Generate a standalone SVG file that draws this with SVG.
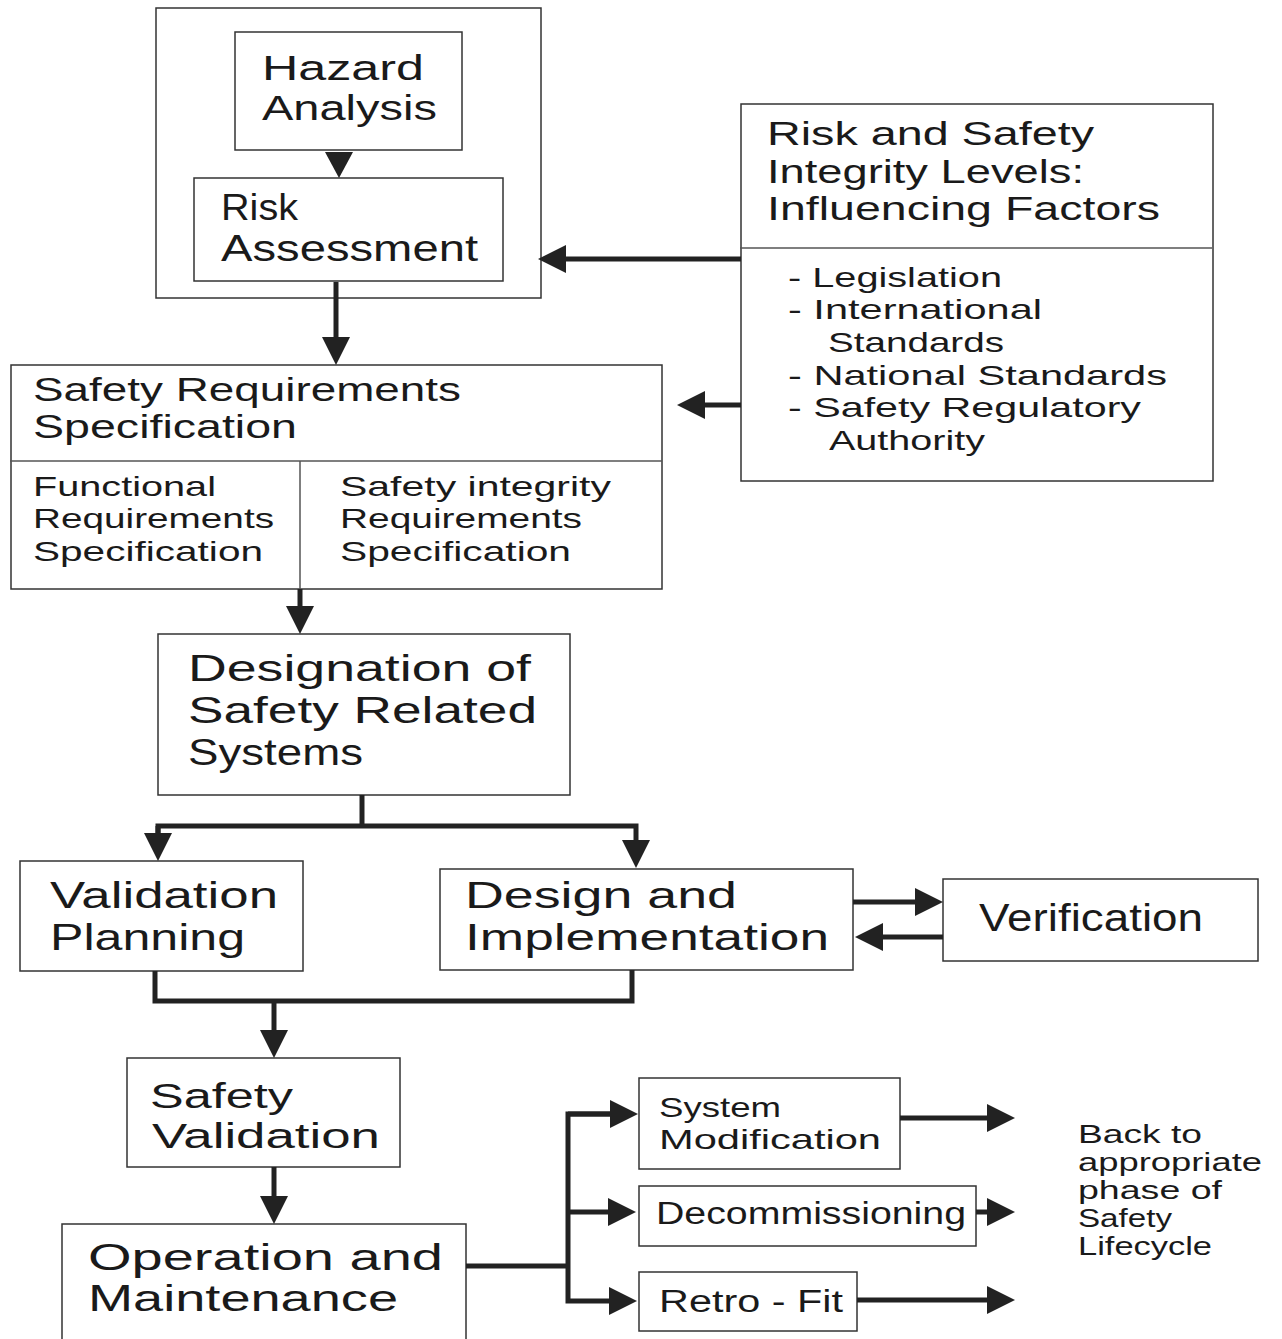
<svg xmlns="http://www.w3.org/2000/svg" width="1282" height="1339" viewBox="0 0 1282 1339">
<defs>
<style>
.box{fill:#fff;stroke:#333;stroke-width:1.5}
.div{stroke:#555;stroke-width:1.5;fill:none}
.c{stroke:#222;stroke-width:5;fill:none}
text{font-family:"Liberation Sans","DejaVu Sans",sans-serif;fill:#1a1a1a}
.a{font-size:35.5px}.b{font-size:37px}.d{font-size:33px}.e{font-size:28.5px}.f{font-size:25px}.g{font-size:36px}
</style>
<marker id="ah" markerUnits="userSpaceOnUse" viewBox="0 0 28 28" refX="18" refY="14" markerWidth="28" markerHeight="28" orient="auto">
<polygon points="0,0 28,14 0,28" fill="#222"/>
</marker>
</defs>

<g id="hazard-risk-group">
<rect class="box" x="156" y="8" width="385" height="290"/>
</g>
<g id="hazard-analysis">
<rect class="box" x="235" y="32" width="227" height="118"/>
<text class="a"><tspan x="262" y="80" textLength="162" lengthAdjust="spacingAndGlyphs">Hazard</tspan><tspan x="262" y="120" textLength="175" lengthAdjust="spacingAndGlyphs">Analysis</tspan></text>
</g>
<g id="risk-assessment">
<rect class="box" x="194" y="178" width="309" height="103"/>
<text class="g"><tspan x="221" y="220" textLength="77" lengthAdjust="spacingAndGlyphs">Risk</tspan><tspan x="221" y="261" textLength="257" lengthAdjust="spacingAndGlyphs">Assessment</tspan></text>
</g>
<g id="influencing-factors">
<rect class="box" x="741" y="104" width="472" height="377"/>
<line class="div" x1="740" y1="248" x2="1212" y2="248"/>
<text class="d"><tspan x="767" y="145" textLength="327" lengthAdjust="spacingAndGlyphs">Risk  and  Safety</tspan><tspan x="767" y="183" textLength="317" lengthAdjust="spacingAndGlyphs">Integrity  Levels:</tspan><tspan x="767" y="220" textLength="393" lengthAdjust="spacingAndGlyphs">Influencing  Factors</tspan></text>
<text class="e"><tspan x="788" y="287" textLength="214" lengthAdjust="spacingAndGlyphs">-  Legislation</tspan><tspan x="788" y="319" textLength="254" lengthAdjust="spacingAndGlyphs">-  International</tspan><tspan x="828" y="352" textLength="176" lengthAdjust="spacingAndGlyphs">Standards</tspan><tspan x="788" y="385" textLength="379" lengthAdjust="spacingAndGlyphs">-  National  Standards</tspan><tspan x="788" y="417" textLength="353" lengthAdjust="spacingAndGlyphs">-  Safety  Regulatory</tspan><tspan x="829" y="450" textLength="156" lengthAdjust="spacingAndGlyphs">Authority</tspan></text>
</g>
<g id="safety-requirements">
<rect class="box" x="11" y="365" width="651" height="224"/>
<line class="div" x1="10" y1="461" x2="662" y2="461"/>
<line class="div" x1="300" y1="461" x2="300" y2="589"/>
<text class="d"><tspan x="33" y="401" textLength="428" lengthAdjust="spacingAndGlyphs">Safety  Requirements</tspan><tspan x="33" y="438" textLength="264" lengthAdjust="spacingAndGlyphs">Specification</tspan></text>
<text class="e"><tspan x="33" y="496" textLength="183" lengthAdjust="spacingAndGlyphs">Functional</tspan><tspan x="33" y="528" textLength="241" lengthAdjust="spacingAndGlyphs">Requirements</tspan><tspan x="33" y="561" textLength="230" lengthAdjust="spacingAndGlyphs">Specification</tspan></text>
<text class="e"><tspan x="340" y="496" textLength="271" lengthAdjust="spacingAndGlyphs">Safety  integrity</tspan><tspan x="340" y="528" textLength="242" lengthAdjust="spacingAndGlyphs">Requirements</tspan><tspan x="340" y="561" textLength="231" lengthAdjust="spacingAndGlyphs">Specification</tspan></text>
</g>
<g id="designation">
<rect class="box" x="158" y="634" width="412" height="161"/>
<text class="b"><tspan x="188" y="681" textLength="343" lengthAdjust="spacingAndGlyphs">Designation  of</tspan><tspan x="188" y="723" textLength="349" lengthAdjust="spacingAndGlyphs">Safety  Related</tspan><tspan x="188" y="765" textLength="175" lengthAdjust="spacingAndGlyphs">Systems</tspan></text>
</g>
<g id="validation-planning">
<rect class="box" x="20" y="861" width="283" height="110"/>
<text class="b"><tspan x="50" y="908" textLength="228" lengthAdjust="spacingAndGlyphs">Validation</tspan><tspan x="50" y="950" textLength="195" lengthAdjust="spacingAndGlyphs">Planning</tspan></text>
</g>
<g id="design-implementation">
<rect class="box" x="440" y="869" width="413" height="101"/>
<text class="b"><tspan x="465" y="908" textLength="272" lengthAdjust="spacingAndGlyphs">Design  and</tspan><tspan x="465" y="950" textLength="364" lengthAdjust="spacingAndGlyphs">Implementation</tspan></text>
</g>
<g id="verification">
<rect class="box" x="943" y="879" width="315" height="82"/>
<text x="979" y="931" style="font-size:38px" textLength="224" lengthAdjust="spacingAndGlyphs">Verification</text>
</g>
<g id="safety-validation">
<rect class="box" x="127" y="1058" width="273" height="109"/>
<text class="a"><tspan x="150" y="1108" textLength="143" lengthAdjust="spacingAndGlyphs">Safety</tspan><tspan x="152" y="1148" textLength="228" lengthAdjust="spacingAndGlyphs">Validation</tspan></text>
</g>
<g id="operation-maintenance">
<rect class="box" x="62" y="1224" width="404" height="130"/>
<text class="g"><tspan x="88" y="1270" textLength="355" lengthAdjust="spacingAndGlyphs">Operation  and</tspan><tspan x="88" y="1311" textLength="310" lengthAdjust="spacingAndGlyphs">Maintenance</tspan></text>
</g>
<g id="system-modification">
<rect class="box" x="639" y="1078" width="261" height="91"/>
<text class="e"><tspan x="659" y="1117" textLength="122" lengthAdjust="spacingAndGlyphs">System</tspan><tspan x="659" y="1149" textLength="222" lengthAdjust="spacingAndGlyphs">Modification</tspan></text>
</g>
<g id="decommissioning">
<rect class="box" x="639" y="1186" width="337" height="60"/>
<text x="656" y="1224" style="font-size:31px" textLength="310" lengthAdjust="spacingAndGlyphs">Decommissioning</text>
</g>
<g id="retro-fit">
<rect class="box" x="639" y="1272" width="218" height="59"/>
<text x="659" y="1312" style="font-size:31px" textLength="184" lengthAdjust="spacingAndGlyphs">Retro  -  Fit</text>
</g>
<g id="back-to-lifecycle">
<text class="f"><tspan x="1078" y="1143" textLength="124" lengthAdjust="spacingAndGlyphs">Back  to</tspan><tspan x="1078" y="1171" textLength="184" lengthAdjust="spacingAndGlyphs">appropriate</tspan><tspan x="1078" y="1199" textLength="144" lengthAdjust="spacingAndGlyphs">phase  of</tspan><tspan x="1078" y="1227" textLength="94" lengthAdjust="spacingAndGlyphs">Safety</tspan><tspan x="1078" y="1255" textLength="134" lengthAdjust="spacingAndGlyphs">Lifecycle</tspan></text>
</g>

<g id="connectors">
<polygon points="325,152 353,152 339,178" fill="#222"/>
<line class="c" x1="336" y1="282" x2="336" y2="355" marker-end="url(#ah)"/>
<line class="c" x1="741" y1="259" x2="548" y2="259" marker-end="url(#ah)"/>
<line class="c" x1="741" y1="405" x2="687" y2="405" marker-end="url(#ah)"/>
<line class="c" x1="300" y1="589" x2="300" y2="624" marker-end="url(#ah)"/>
<polyline class="c" points="362,795 362,826"/>
<polyline class="c" points="158,851 158,826 636,826 636,858" marker-end="url(#ah)"/>
<line class="c" x1="158" y1="826" x2="158" y2="851" marker-end="url(#ah)"/>
<line class="c" x1="853" y1="902" x2="933" y2="902" marker-end="url(#ah)"/>
<line class="c" x1="943" y1="937" x2="865" y2="937" marker-end="url(#ah)"/>
<polyline class="c" points="155,971 155,1001 632,1001 632,970"/>
<line class="c" x1="274" y1="1001" x2="274" y2="1048" marker-end="url(#ah)"/>
<line class="c" x1="274" y1="1167" x2="274" y2="1214" marker-end="url(#ah)"/>
<polyline class="c" points="466,1266 568,1266"/>
<polyline class="c" points="628,1114 568,1114 568,1301 627,1301" marker-end="url(#ah)"/>
<line class="c" x1="568" y1="1114" x2="628" y2="1114" marker-end="url(#ah)"/>
<line class="c" x1="568" y1="1212" x2="626" y2="1212" marker-end="url(#ah)"/>
<line class="c" x1="900" y1="1118" x2="1005" y2="1118" marker-end="url(#ah)"/>
<line class="c" x1="976" y1="1212" x2="1005" y2="1212" marker-end="url(#ah)"/>
<line class="c" x1="857" y1="1300" x2="1005" y2="1300" marker-end="url(#ah)"/>
</g>
</svg>
